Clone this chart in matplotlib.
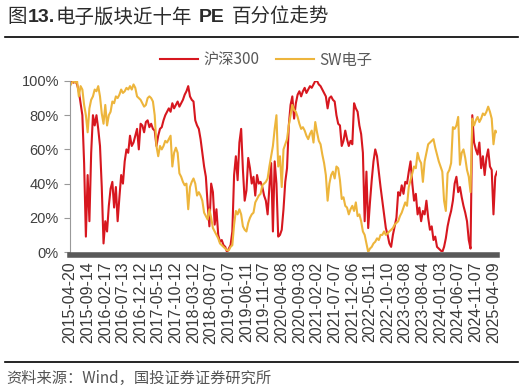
import matplotlib
matplotlib.use("Agg")
import matplotlib.pyplot as plt
import numpy as np

# one value every 10 trading days, in %
step = 10
hs300 = [99, 100, 99, 100, 98, 94, 87, 80, 52, 9,
         45, 18, 58, 80, 74, 80, 72, 62, 38, 5,
         18, 12, 27, 37, 41, 26, 38, 18, 32, 45,
         40, 53, 60, 58, 68, 62, 64, 68, 72, 60,
         75, 74, 70, 76, 77, 73, 75, 72, 71, 62,
         68, 72, 73, 77, 80, 82, 84, 82, 87, 84,
         86, 88, 85, 87, 89, 92, 94, 97, 91, 89,
         88, 77, 74, 72, 66, 58, 50, 44, 28, 15,
         40, 35, 16, 25, 10, 6, 7, 4, 3, 0,
         2, 4, 12, 45, 56, 42, 64, 72, 48, 30,
         36, 55, 49, 40, 44, 33, 45, 40, 41, 38,
         33, 30, 22, 38, 52, 12, 53, 40, 9, 10,
         13, 25, 41, 49, 74, 86, 91, 78, 87, 92,
         94, 91, 94, 96, 93, 95, 97, 96, 98, 100,
         100, 98, 97, 95, 93, 91, 84, 90, 91, 89,
         88, 80, 75, 74, 62, 65, 71, 66, 62, 65,
         63, 87, 84, 82, 74, 69, 58, 18, 47, 14,
         29, 42, 53, 60, 56, 47, 38, 30, 22, 14,
         10, 5, 3, 10, 15, 20, 35, 33, 39, 34,
         41, 40, 47, 53, 40, 30, 34, 22, 26, 18,
         24, 22, 30, 20, 13, 15, 7, 9, 3, 2,
         1, 0, 3, 8, 15, 20, 24, 30, 40, 44,
         35, 38, 32, 27, 23, 18, 7, 2, 80, 64,
         60, 57, 64, 49, 56, 45, 55, 60, 50, 48,
         22, 44, 47]
sw_elec = [97, 99, 100, 99, 100, 91, 97, 95, 86, 80,
           70, 84, 89, 91, 95, 94, 97, 91, 81, 75,
           86, 74, 80, 82, 88, 87, 91, 90, 92, 95,
           93, 94, 96, 95, 97, 95, 98, 96, 91, 90,
           89, 87, 85, 86, 90, 91, 90, 88, 80, 62,
           56, 62, 60, 62, 65, 64, 66, 68, 50, 58,
           61, 58, 46, 44, 41, 39, 40, 25, 38, 41,
           43, 40, 33, 35, 33, 30, 23, 21, 19, 25,
           20, 14, 12, 10, 8, 5, 4, 3, 2, 1,
           1, 3, 4, 16, 24, 22, 25, 22, 15, 13,
           12, 17, 20, 22, 23, 29, 31, 33, 34, 39,
           40, 41, 43, 50, 56, 62, 72, 80, 50, 56,
           38, 60, 63, 66, 74, 80, 86, 83, 82, 79,
           75, 72, 73, 71, 68, 66, 69, 71, 64, 76,
           70, 65, 63, 57, 52, 45, 30, 40, 45, 47,
           43, 50, 49, 42, 31, 32, 27, 26, 22, 25,
           27, 24, 29, 21, 22, 18, 12, 10, 5, 0,
           2, 3, 5, 6, 8, 7, 10, 10, 12, 10,
           11, 12, 13, 14, 16, 17, 18, 21, 23, 26,
           29, 27, 38, 42, 46, 50, 49, 58, 54, 52,
           41, 53, 58, 63, 64, 65, 66, 61, 57, 53,
           50, 47, 30, 24, 46, 48, 52, 73, 72, 74,
           79, 51, 58, 60, 55, 48, 44, 35, 78, 74,
           77, 79, 76, 78, 81, 80, 82, 85, 82, 78,
           63, 71, 70]
tick_labels = ["2015-04-20", "2015-09-14", "2016-02-17", "2016-07-13", "2016-12-12",
               "2017-05-15", "2017-10-12", "2018-03-12", "2018-08-07", "2019-01-07",
               "2019-06-11", "2019-11-07", "2020-04-08", "2020-09-03", "2021-02-02",
               "2021-07-07", "2021-12-06", "2022-05-11", "2022-10-10", "2023-03-08",
               "2023-08-04", "2024-01-03", "2024-06-07", "2024-11-07", "2025-04-09"]

x = np.arange(len(hs300)) * step
red = "#D7171F"
yellow = "#EDB53C"
cjk = ["Noto Sans CJK SC", "DejaVu Sans"]
lat = ["Liberation Sans", "Noto Sans CJK SC"]

fig = plt.figure(figsize=(5.25, 3.9), dpi=100)
ax = fig.add_axes([70/525, 1-252/390, 427/525, (252-81)/390])

# spines first: set_position resets the ticks
for s in ["top", "right"]:
    ax.spines[s].set_visible(False)
ax.spines["left"].set_color("#999999")
ax.spines["left"].set_linewidth(0.8)
ax.spines["bottom"].set_color("#595959")
ax.spines["bottom"].set_linewidth(4)
ax.spines["bottom"].set_position(("outward", 2))

ax.plot(x, np.array(hs300)/100, color=red, lw=1.5, label="沪深300")
ax.plot(x, np.array(sw_elec)/100, color=yellow, lw=1.5, label="SW电子")

ax.set_xlim(0, x[-1])
ax.set_ylim(0, 1.0)
yt = np.arange(0, 101, 20)
ax.set_yticks(yt / 100)
ax.set_yticklabels([f"{v}%" for v in yt], family=lat, fontsize=10.5, color="#404040")
ax.set_xticks(np.arange(len(tick_labels)) * 100)
ax.set_xticklabels(tick_labels, rotation=90, family=lat, fontsize=11.5, color="#3a3a3a")
ax.tick_params(axis="x", length=0, pad=5)
ax.tick_params(axis="y", length=4, width=0.8, color="#999999", pad=4)

leg = fig.legend(loc="center", bbox_to_anchor=(266/525, 1-60/390), ncol=2, frameon=False,
                 prop={"family": cjk, "size": 11}, handlelength=2.5,
                 handletextpad=0.35, columnspacing=1.1)
for t in leg.get_texts():
    t.set_color("#595959")

# title pieces: CJK regular, digits / PE bold
title_parts = [(7, "图", "normal", cjk), (28, "13.", "bold", lat),
               (56, "电子版块近十年", "normal", cjk), (199, "PE", "bold", lat),
               (232, "百分位走势", "normal", cjk)]
for px, txt, w, fam in title_parts:
    fig.text(px/525, 1-17/390, txt, family=fam, fontsize=14, weight=w,
             color="#2b2b2b", va="center", ha="left")
fig.add_artist(plt.Line2D([5/525, 518/525], [1-37/390, 1-37/390], color="black", lw=1.2))
fig.add_artist(plt.Line2D([5/525, 518/525], [1-362/390, 1-362/390], color="black", lw=1.2))
fig.text(6/525, 1-378/390, "资料来源：Wind，国投证券证券研究所", family=cjk,
         fontsize=11, color="#555555", va="center", ha="left", style="italic")

fig.savefig("out.png", dpi=100)
